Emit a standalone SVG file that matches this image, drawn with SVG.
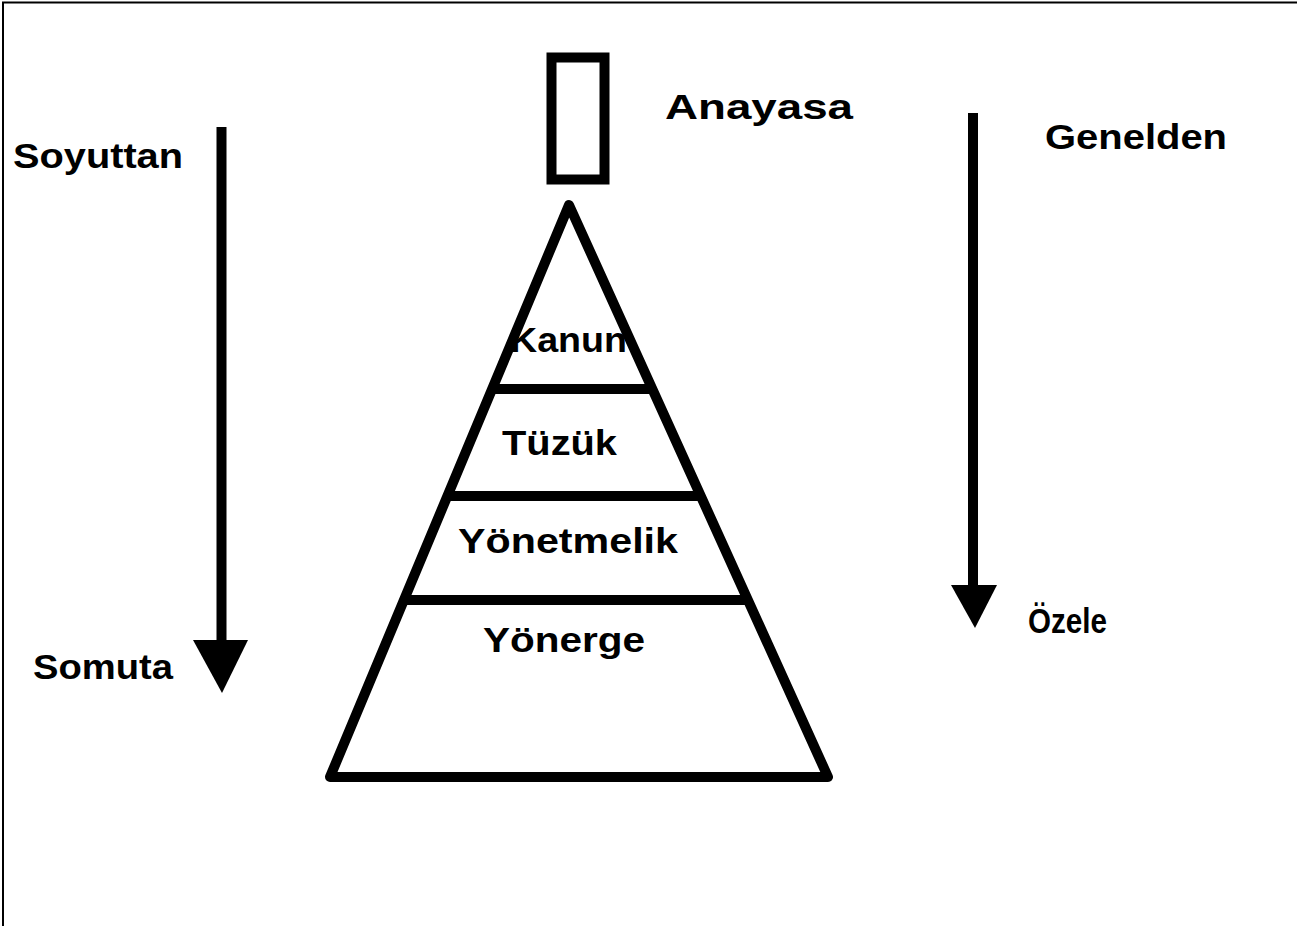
<svg xmlns="http://www.w3.org/2000/svg" width="1297" height="926" viewBox="0 0 1297 926">
<style>
.t{font-family:"Liberation Sans",Arial,sans-serif;font-weight:bold;font-size:35px;fill:#000}
.s{fill:none;stroke:#000;stroke-width:10}
.h{fill:#000}
</style>
<rect x="0" y="0" width="1297" height="926" fill="#fff"/>
<path d="M3,926 V2.5 H1297" fill="none" stroke="#000" stroke-width="2"/>
<g id="anayasa">
<rect x="551.5" y="57.5" width="53" height="122" class="s" stroke-width="11"/>
<text x="665" y="119" class="t" textLength="188" lengthAdjust="spacingAndGlyphs">Anayasa</text>
</g>
<g id="pyramid">
<path d="M330,777 L569,205 L828,777 Z" class="s" stroke-linejoin="round"/>
<line x1="492" y1="389" x2="654" y2="389" class="s"/>
<line x1="450" y1="496" x2="700" y2="496" class="s"/>
<line x1="405" y1="600" x2="747" y2="600" class="s"/>
</g>
<g id="kanun"><text x="510" y="352" class="t" textLength="117" lengthAdjust="spacingAndGlyphs">Kanun</text></g>
<g id="tuzuk"><text x="502" y="455" class="t" textLength="115" lengthAdjust="spacingAndGlyphs">Tüzük</text></g>
<g id="yonetmelik"><text x="458" y="553" class="t" textLength="220" lengthAdjust="spacingAndGlyphs">Yönetmelik</text></g>
<g id="yonerge"><text x="483" y="652" class="t" textLength="162" lengthAdjust="spacingAndGlyphs">Yönerge</text></g>
<g id="soyuttan"><text x="13" y="168" class="t" textLength="170" lengthAdjust="spacingAndGlyphs">Soyuttan</text></g>
<g id="somuta"><text x="33" y="679" class="t" textLength="140" lengthAdjust="spacingAndGlyphs">Somuta</text></g>
<g id="genelden"><text x="1045" y="149" class="t" textLength="182" lengthAdjust="spacingAndGlyphs">Genelden</text></g>
<g id="ozele"><text x="1028" y="633" class="t" textLength="79" lengthAdjust="spacingAndGlyphs">Özele</text></g>
<g id="connectors">
<line x1="221.5" y1="127" x2="221.5" y2="650" class="s" stroke-width="10"/>
<polygon points="193,640 248,640 222,693" class="h"/>
<line x1="973" y1="113" x2="973" y2="595" class="s" stroke-width="10"/>
<polygon points="951,585 997,585 975,628" class="h"/>
</g>
</svg>
